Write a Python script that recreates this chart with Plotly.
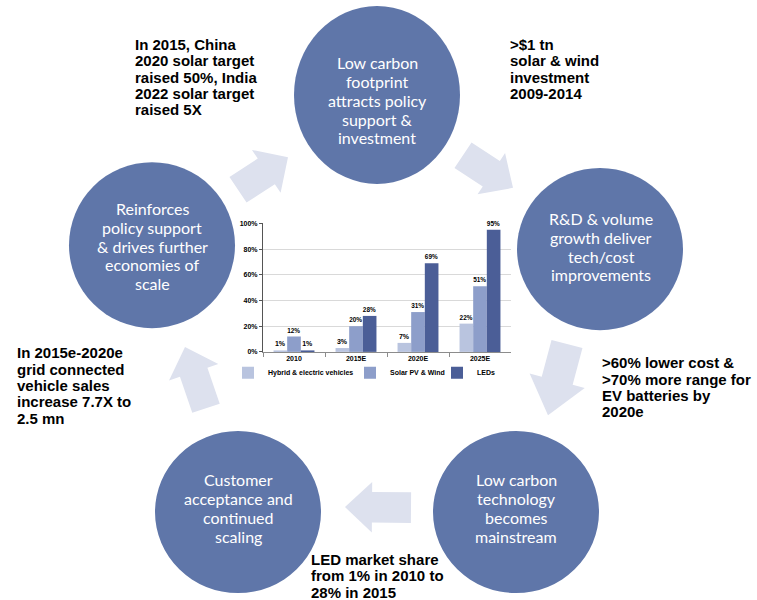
import math
import plotly.graph_objects as go

# ---------------- data ----------------
categories = ["2010", "2015E", "2020E", "2025E"]
hybrid_ev = [1, 3, 7, 22]
solar_wind = [12, 20, 31, 51]
leds = [1, 28, 69, 95]
series_names = ["Hybrid & electric vehicles", "Solar PV & Wind", "LEDs"]
y_tick_values = [0, 20, 40, 60, 80, 100]
y_tick_labels = ["0%", "20%", "40%", "60%", "80%", "100%"]

circle_labels = [
    ["Low carbon", "footprint", "attracts policy", "support &", "investment"],
    ["R&D & volume", "growth deliver", "tech/cost", "improvements"],
    ["Low carbon", "technology", "becomes", "mainstream"],
    ["Customer", "acceptance and", "continued", "scaling"],
    ["Reinforces", "policy support", "& drives further", "economies of", "scale"],
]

note_top_left = ["In 2015, China", "2020 solar target", "raised 50%, India",
                 "2022 solar target", "raised 5X"]
note_top_right = [">$1 tn", "solar & wind", "investment", "2009-2014"]
note_right = [">60% lower cost &", ">70% more range for", "EV batteries by", "2020e"]
note_bottom = ["LED market share", "from 1% in 2010 to", "28% in 2015"]
note_left = ["In 2015e-2020e", "grid connected", "vehicle sales",
             "increase 7.7X to", "2.5 mn"]

# ---------------- layout helpers (pixel -> paper) ----------------
W, H = 757, 600


def px(x):
    return x / W


def py(y):
    return 1 - y / H


CIRCLE_COLOR = "#5f76a9"
ARROW_COLOR = "#dde1ee"
BAR_COLORS = ["#b9c4df", "#8d9eca", "#4b5e97"]
NOTE_FONT = dict(family="Liberation Sans, Arial", size=15, color="black", weight="bold")
SMALL_FONT = dict(family="Liberation Sans, Arial", size=7, color="black", weight="bold")
CIRCLE_FONT = dict(family="Lato, Open Sans", size=16, color="white")

fig = go.Figure()

for name, vals, col, lg in zip(series_names, [hybrid_ev, solar_wind, leds], BAR_COLORS,
                               ["legend", "legend2", "legend3"]):
    fig.add_trace(go.Bar(
        x=categories, y=vals, name=name, marker=dict(color=col, line=dict(width=0)),
        text=[f"{v}%" for v in vals], textposition="outside", textfont=SMALL_FONT,
        cliponaxis=False, legend=lg,
    ))

shapes = []
# circles: (cx, cy, rx, ry)
circles = [(377, 92, 83, 90), (600, 248, 83, 82), (516, 514, 83, 82),
           (238, 514, 83, 82), (152, 244, 83, 84)]
for cx, cy, rx, ry in circles:
    shapes.append(dict(type="circle", xref="paper", yref="paper",
                       x0=px(cx - rx), x1=px(cx + rx), y0=py(cy + ry), y1=py(cy - ry),
                       fillcolor=CIRCLE_COLOR, line=dict(width=0), layer="below"))


def arrow_path(tail, tip, sw, hw, hl):
    tx, ty = tail
    hx, hy = tip
    L = math.hypot(hx - tx, hy - ty)
    dx, dy = (hx - tx) / L, (hy - ty) / L
    nx, ny = -dy, dx
    bx, by = hx - dx * hl, hy - dy * hl
    pts = [
        (tx + nx * sw / 2, ty + ny * sw / 2),
        (bx + nx * sw / 2, by + ny * sw / 2),
        (bx + nx * hw / 2, by + ny * hw / 2),
        (hx, hy),
        (bx - nx * hw / 2, by - ny * hw / 2),
        (bx - nx * sw / 2, by - ny * sw / 2),
        (tx - nx * sw / 2, ty - ny * sw / 2),
    ]
    return "M " + " L ".join(f"{px(x):.5f},{py(y):.5f}" for x, y in pts) + " Z"


arrows = [
    ((238, 188), (288, 155), 31, 52, 26),
    ((463, 153), (513, 186), 31, 50, 26),
    ((567, 344), (548, 416), 32, 57, 36),
    ((411, 509.5), (345, 509), 31, 51, 27),
    ((206, 409), (185, 347), 29, 52, 27),
]
for tail, tip, sw, hw, hl in arrows:
    shapes.append(dict(type="path", xref="paper", yref="paper",
                       path=arrow_path(tail, tip, sw, hw, hl),
                       fillcolor=ARROW_COLOR, line=dict(width=0), layer="below"))

annotations = []
circle_text_pos = [(377, 97.5), (601, 245.5), (516, 510), (238, 510), (152, 245)]
for lines, (x, yc) in zip(circle_labels, circle_text_pos):
    n = len(lines)
    for i, line in enumerate(lines):
        annotations.append(dict(xref="paper", yref="paper", x=px(x),
                                y=py(yc + (i - (n - 1) / 2) * 19),
                                xanchor="center", yanchor="middle", text=line,
                                showarrow=False, font=CIRCLE_FONT))

note_pos = [(note_top_left, 133, 41), (note_top_right, 508, 41), (note_right, 600, 363),
            (note_bottom, 309, 562), (note_left, 15, 353)]
for lines, x, y0 in note_pos:
    for i, line in enumerate(lines):
        annotations.append(dict(xref="paper", yref="paper", x=px(x), y=py(y0 + i * 16.5),
                                xanchor="left", yanchor="middle", text=line,
                                showarrow=False, font=NOTE_FONT))

legend_common = dict(orientation="h", yref="paper", y=py(373), yanchor="middle",
                     xanchor="left", font=SMALL_FONT, bgcolor="rgba(0,0,0,0)",
                     itemwidth=30, borderwidth=0)

fig.update_layout(
    width=W, height=H, autosize=False,
    margin=dict(l=0, r=0, t=0, b=0),
    paper_bgcolor="white", plot_bgcolor="white",
    barmode="group", bargap=0.34, bargroupgap=0,
    showlegend=True,
    legend=dict(x=px(228), **legend_common),
    legend2=dict(x=px(350), **legend_common),
    legend3=dict(x=px(437), **legend_common),
    xaxis=dict(domain=[px(263), px(511)], showline=True, linecolor="#8c8c8c",
               ticks="outside", tickson="boundaries", ticklen=4, tickcolor="#8c8c8c",
               tickfont=SMALL_FONT, showgrid=False, fixedrange=True),
    yaxis=dict(domain=[py(352), py(222)], range=[0, 100], tickmode="array",
               tickvals=y_tick_values, ticktext=y_tick_labels,
               showgrid=True, gridcolor="#d9d9d9", gridwidth=1,
               showline=True, linecolor="#555555", ticks="outside", ticklen=3,
               tickcolor="#555555", tickfont=SMALL_FONT, zeroline=False, fixedrange=True),
    shapes=shapes,
    annotations=annotations,
)

fig.write_html("out.html", config={"displayModeBar": False},
               post_script="document.body.style.margin='0';")
